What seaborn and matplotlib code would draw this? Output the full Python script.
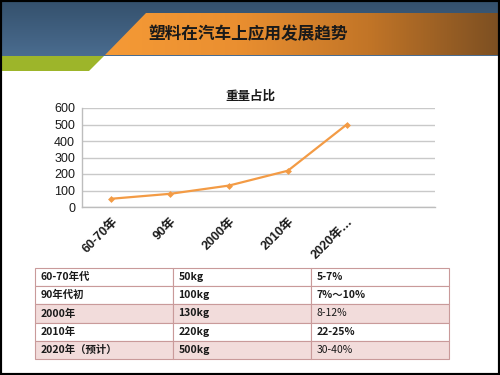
import numpy as np
import pandas as pd
import matplotlib
matplotlib.use("Agg")
import matplotlib.pyplot as plt
import seaborn as sns
from matplotlib.patches import Polygon, Rectangle

# data
categories = ["60-70年", "90年", "2000年", "2010年", "2020年…"]
weights = [50, 80, 130, 220, 500]

table_period = ["60-70年代", "90年代初", "2000年", "2010年", "2020年（预计）"]
table_weight = ["50kg", "100kg", "130kg", "220kg", "500kg"]
table_share = ["5-7%", "7%～10%", "8-12%", "22-25%", "30-40%"]

sns.set_style("white")
plt.rcParams["font.family"] = ["Noto Sans CJK SC", "DejaVu Sans"]
latin = ["Liberation Sans", "Noto Sans CJK SC"]

fig = plt.figure(figsize=(5, 3.75), dpi=100)

# slide background and header (pixel coords)
bg = fig.add_axes([0, 0, 1, 1])
bg.set_xlim(0, 500)
bg.set_ylim(375, 0)
bg.axis("off")

# blue band with vertical gradient
blue = np.linspace(0, 1, 50).reshape(-1, 1)
bg.imshow(blue, extent=[0, 500, 56, 0], aspect="auto",
          cmap=matplotlib.colors.LinearSegmentedColormap.from_list("b", ["#34506c", "#4a6c8f"]),
          zorder=1)
# green strip
bg.add_patch(Polygon([[0, 56], [104, 56], [89, 71], [0, 71]], closed=True,
                     color="#9db52a", lw=0, zorder=2))
# orange banner with horizontal gradient
grad = np.linspace(0, 1, 256).reshape(1, -1)
im = bg.imshow(grad, extent=[105, 500, 55, 13], aspect="auto",
               cmap=matplotlib.colors.LinearSegmentedColormap.from_list(
                   "o", ["#f59a36", "#ea8f30", "#c27527", "#7c4f22"]), zorder=3)
clip = Polygon([[146, 13], [500, 13], [500, 55], [105, 55]], closed=True,
               transform=bg.transData, facecolor="none", lw=0)
bg.add_patch(clip)
im.set_clip_path(clip)
bg.add_patch(Rectangle((0, 0), 500, 375, fill=False, ec="black", lw=3, zorder=10))
bg.text(148, 34, "塑料在汽车上应用发展趋势", fontsize=12, fontweight="bold",
        color="#1a1a1a", va="center", ha="left", zorder=5)

# line chart
ax = fig.add_axes([82 / 500, 1 - 207 / 375, 353 / 500, 99 / 375])
df = pd.DataFrame({"pos": np.arange(len(categories)), "weight": weights})
sns.lineplot(data=df, x="pos", y="weight", ax=ax, color="#f39b45", lw=1.6,
             marker="D", markersize=3.5, markeredgewidth=0)
ax.set_xlim(-0.5, 5.5)
ax.set_ylim(0, 600)
ax.set_yticks(range(0, 601, 100))
ax.yaxis.grid(True, color="#c9c9c9", lw=1)
ax.set_axisbelow(True)
ax.set_xticks(np.arange(-0.5, 6, 1))
ax.set_xticklabels([])
ax.set_xticks(np.arange(len(categories)), minor=True)
ax.set_xticklabels(categories, minor=True, rotation=45, ha="right",
                   rotation_mode="anchor", fontsize=9, fontweight="bold",
                   color="#1a1a1a", family=latin)
ax.tick_params(axis="x", which="major", length=4, color="#bdbdbd", width=1, direction="out")
ax.tick_params(axis="x", which="minor", length=0, pad=6)
ax.tick_params(axis="y", length=3, color="#bdbdbd", labelsize=9, labelcolor="#1a1a1a", pad=2)
for lab in ax.get_yticklabels():
    lab.set_family(latin)
for s in ["top", "right"]:
    ax.spines[s].set_visible(False)
for s in ["left", "bottom"]:
    ax.spines[s].set_color("#bdbdbd")
    ax.spines[s].set_linewidth(1)
ax.set_xlabel("")
ax.set_ylabel("")
fig.text(250 / 500, 1 - 96 / 375, "重量占比", ha="center", va="center",
         fontsize=9, fontweight="bold", color="#1a1a1a")

# table
tax = fig.add_axes([35 / 500, 1 - 359 / 375, 414 / 500, 91 / 375])
tax.axis("off")
cells = [[p, w, s] for p, w, s in zip(table_period, table_weight, table_share)]
tbl = tax.table(cellText=cells, bbox=[0, 0, 1, 1], cellLoc="left")
tbl.auto_set_font_size(False)
for (r, c), cell in tbl.get_celld().items():
    cell.set_edgecolor("#c99a9a")
    cell.set_linewidth(0.8)
    cell.set_facecolor("#f2dcdb" if r in (2, 4) else "white")
    cell.PAD = 0.04
    t = cell.get_text()
    t.set_fontsize(7.5)
    t.set_color("#1a1a1a")
    t.set_fontweight("normal" if (c == 2 and r in (2, 4)) else "bold")

fig.savefig("out.png", dpi=100)
